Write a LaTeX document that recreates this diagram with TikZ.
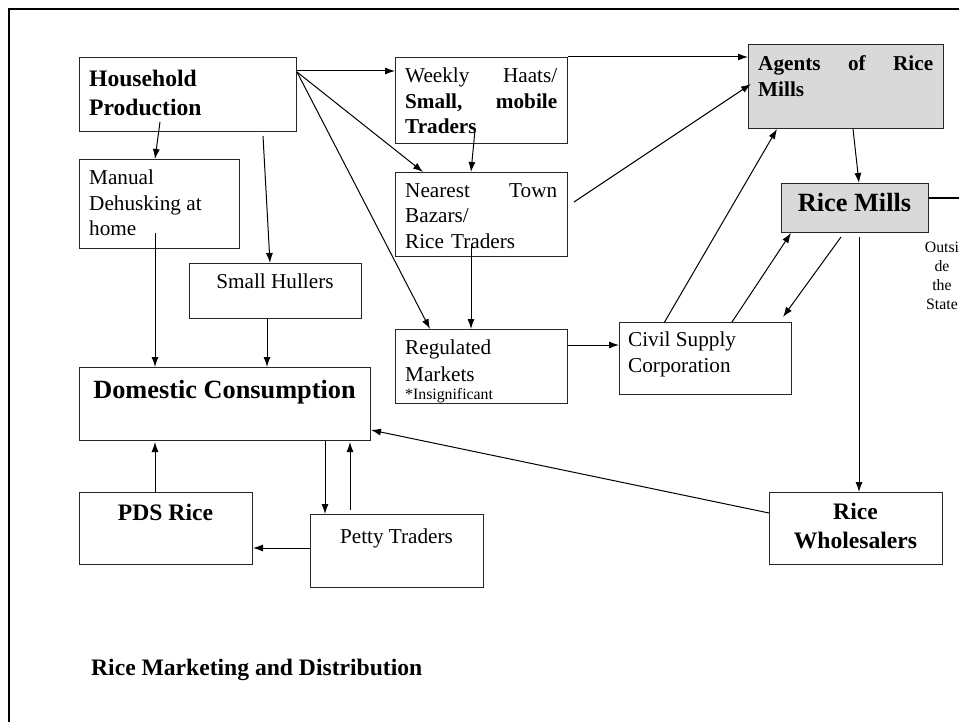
\documentclass[tikz,border=0pt]{standalone}
\usepackage{fontspec}
\setmainfont{Liberation Serif}
\usetikzlibrary{arrows.meta}
\definecolor{millgray}{RGB}{217,217,217}

\begin{document}
\begin{tikzpicture}[x=1pt,y=-1pt,
 box/.style={draw=black!85,line width=1pt,inner sep=0pt,anchor=north west},
 millbox/.style={box,fill=millgray},
 arr/.style={line width=1pt,-{Latex[length=10pt,width=7pt]}},
 txt/.style={inner sep=0pt,align=left,anchor=north west,font=\fontsize{21.2}{25.5}\selectfont},
 bold/.style={inner sep=0pt,font=\fontsize{23.6}{29}\selectfont\bfseries},
 big/.style={inner sep=0pt,anchor=base,font=\fontsize{26.3}{31}\selectfont\bfseries},
 tiny/.style={inner sep=0pt,font=\fontsize{15.8}{19}\selectfont}]
 \useasboundingbox (0,0) rectangle (959,722);
 \clip (0,0) rectangle (959,722);
 \draw[line width=2.5pt] (9,9) rectangle (990,760);
 % boxes
 \node[box,minimum width=217,minimum height=74] (hp) at (79,57) {};
 \node[box,minimum width=172,minimum height=86] (wh) at (395,57) {};
 \node[millbox,minimum width=195,minimum height=84] (ag) at (748,44) {};
 \node[box,minimum width=160,minimum height=89] (md) at (79,159) {};
 \node[box,minimum width=172,minimum height=84] (nt) at (395,172) {};
 \node[millbox,minimum width=147,minimum height=49] (rm) at (781,183) {};
 \node[box,minimum width=172,minimum height=55] (sh) at (189,263) {};
 \node[box,minimum width=172,minimum height=74] (rgm) at (395,329) {};
 \node[box,minimum width=172,minimum height=72] (cs) at (619,322) {};
 \node[box,minimum width=291,minimum height=73] (dc) at (79,367) {};
 \node[box,minimum width=173,minimum height=72] (pds) at (79,492) {};
 \node[box,minimum width=173,minimum height=73] (pt) at (310,514) {};
 \node[box,minimum width=173,minimum height=72] (rw) at (769,492) {};
 \coordinate (exit) at (959,198);
 % texts
 \node[bold,align=left,anchor=north west] (hp-t) at (89,70) {Household\\Production};
 \node[txt,text width=152] (wh-t) at (405,68) {Weekly\hfill Haats/\\\textbf{Small,\hfill mobile}\\\textbf{Traders}};
 \node[txt,text width=175,font=\fontsize{21.2}{26}\selectfont\bfseries] (ag-t) at (758,55) {Agents\hfill of\hfill Rice\\Mills};
 \node[big] (rm-t) at (854.5,212) {Rice Mills};
 \node[tiny,align=center,anchor=north] (out-t) at (942,242) {Outsi\\de\\the\\State};
 \node[txt] (md-t) at (89,170) {Manual\\Dehusking at\\home};
 \node[txt,text width=152] (nt-t) at (405,183) {Nearest\hfill Town\\Bazars/\\Rice Traders};
 \node[txt,anchor=base] (sh-t) at (275,288) {Small Hullers};
 \node[txt,font=\fontsize{21.2}{27}\selectfont] (rgm-t) at (405,340) {Regulated\\Markets};
 \node[tiny,anchor=base west] (rgm-n) at (405,399) {*Insignificant};
 \node[txt] (cs-t) at (628,332) {Civil Supply\\Corporation};
 \node[big] (dc-t) at (224.5,398) {Domestic Consumption};
 \node[bold,anchor=base] (pds-t) at (165.5,520) {PDS Rice};
 \node[txt,anchor=base] (pt-t) at (396.5,543) {Petty Traders};
 \node[bold,align=center,anchor=north] (rw-t) at (855.5,503) {Rice\\Wholesalers};
 \node[bold,anchor=base west] (title) at (91,675) {Rice Marketing and Distribution};
 % flows
 \draw[arr] ([shift={(0,14)}]hp.north east) -- ([shift={(0,14)}]wh.north west);
 \draw[arr] ([shift={(0,15)}]hp.north east) -- ([shift={(28,0)}]nt.north west);
 \draw[arr] ([shift={(0,15)}]hp.north east) -- ([shift={(35,0)}]rgm.north west);
 \draw[arr] ([shift={(81,-10)}]hp.south west) -- ([shift={(76,0)}]md.north west);
 \draw[arr] ([shift={(184,4)}]hp.south west) -- ([shift={(81,0)}]sh.north west);
 \draw[arr] ([shift={(80,73)}]wh.north west) -- ([shift={(76,0)}]nt.north west);
 \draw[arr] (wh.north east) -- ([shift={(0,13)}]ag.north west);
 \draw[arr] ([shift={(6,30)}]nt.north east) -- ([shift={(3,40)}]ag.north west);
 \draw[arr] ([shift={(76,75)}]nt.north west) -- ([shift={(76,0)}]rgm.north west);
 \draw[arr] ([shift={(76,74)}]md.north west) -- ([shift={(76,0)}]dc.north west);
 \draw[arr] ([shift={(78,0)}]sh.south west) -- ([shift={(188,0)}]dc.north west);
 \draw[arr] ([shift={(0,16)}]rgm.north east) -- ([shift={(0,23)}]cs.north west);
 \draw[arr] ([shift={(45,1)}]cs.north west) -- ([shift={(29,0)}]ag.south west);
 \draw[arr] ([shift={(113,0)}]cs.north west) -- ([shift={(10,0)}]rm.south west);
 \draw[arr] ([shift={(60,4)}]rm.south west) -- ([shift={(-9,-5)}]cs.north east);
 \draw[arr] ([shift={(105,0)}]ag.south west) -- ([shift={(78,0)}]rm.north west);
 \draw[arr] ([shift={(78,4)}]rm.south west) -- ([shift={(90,0)}]rw.north west);
 \draw[arr] ([shift={(0,21)}]rw.north west) -- ([shift={(0,63)}]dc.north east);
 \draw[arr] ([shift={(246,0)}]dc.south west) -- ([shift={(15,0)}]pt.north west);
 \draw[arr] ([shift={(40,-4)}]pt.north west) -- ([shift={(271,1)}]dc.south west);
 \draw[arr] ([shift={(76,0)}]pds.north west) -- ([shift={(76,1)}]dc.south west);
 \draw[arr] ([shift={(0,34)}]pt.north west) -- ([shift={(0,56)}]pds.north east);
 \draw[line width=1.3pt] ([shift={(0,15)}]rm.north east) -- (exit);
\end{tikzpicture}
\end{document}
